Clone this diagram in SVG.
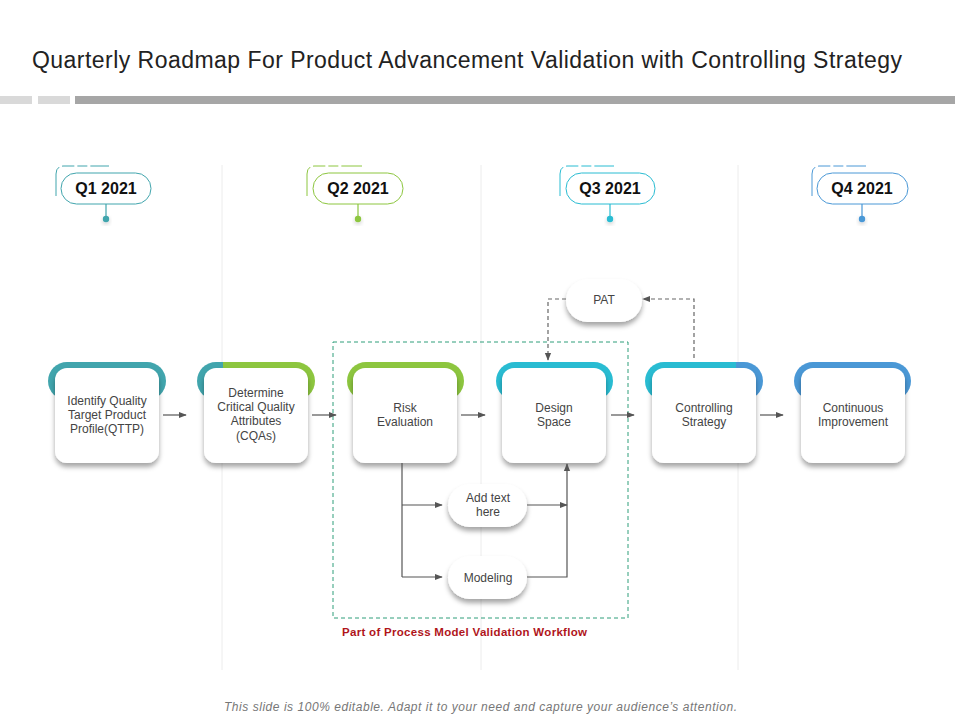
<svg xmlns="http://www.w3.org/2000/svg" width="960" height="720" viewBox="0 0 960 720">
<style>
.title{font-family:"Liberation Sans",Arial,sans-serif;font-size:23px;fill:#222}
.q{font-family:"Liberation Sans",Arial,sans-serif;font-size:16px;font-weight:bold;fill:#111;text-anchor:middle}
.t{font-family:"Liberation Sans",Arial,sans-serif;font-size:12px;fill:#444;text-anchor:middle}
.card{fill:#fff}
.sep{stroke:#ececec;stroke-width:1}
.conn{stroke:#555;stroke-width:1.2;fill:none}
.dash{stroke:#666;stroke-width:1.2;fill:none;stroke-dasharray:4 3}
.red{font-family:"Liberation Sans",Arial,sans-serif;font-size:11.5px;font-weight:bold;fill:#b0151b}
.foot{font-family:"Liberation Sans",Arial,sans-serif;font-size:12px;font-style:italic;fill:#777}
</style>
<defs>
<filter id="sh" x="-30%" y="-30%" width="160%" height="170%">
<feDropShadow dx="0" dy="4" stdDeviation="2.5" flood-color="#000" flood-opacity="0.35"/>
</filter>
<filter id="sh2" x="-30%" y="-30%" width="160%" height="180%">
<feDropShadow dx="0" dy="2" stdDeviation="2" flood-color="#000" flood-opacity="0.2"/>
</filter>
<marker id="ar" viewBox="0 0 10 10" refX="9" refY="5" markerWidth="8" markerHeight="8" orient="auto" markerUnits="userSpaceOnUse">
<path d="M0,1 L10,5 L0,9 Z" fill="#555"/>
</marker>
<linearGradient id="g2" x1="0" y1="0" x2="1" y2="0">
<stop offset="0.22" stop-color="#41a5ad"/><stop offset="0.22" stop-color="#8dc63f"/>
</linearGradient>
<linearGradient id="g5" x1="0" y1="0" x2="1" y2="0">
<stop offset="0.77" stop-color="#29bcd2"/><stop offset="0.77" stop-color="#4a98d6"/>
</linearGradient>
</defs>
<rect width="960" height="720" fill="#fff"/>
<text class="title" x="32" y="68" textLength="870" lengthAdjust="spacing">Quarterly Roadmap For Product Advancement Validation with Controlling Strategy</text>
<rect x="0" y="96" width="32" height="8" fill="#d9d9d9"/>
<rect x="38" y="96" width="32" height="8" fill="#d9d9d9"/>
<rect x="75" y="96" width="880" height="8" fill="#a6a6a6"/>
<g id="separators">
<line class="sep" x1="222" y1="165" x2="222" y2="670"/>
<line class="sep" x1="481" y1="165" x2="481" y2="670"/>
<line class="sep" x1="738" y1="165" x2="738" y2="670"/>
</g>
<g id="q1">
<path d="M56,196 V174 Q56,166 64,166 H109" fill="none" stroke="#41a5ad" stroke-width="1" stroke-dasharray="30 3 12 3 10 3 40"/>
<rect x="61" y="173" width="90" height="31" rx="15.5" fill="#fff" stroke="#41a5ad" stroke-width="1"/>
<text class="q" x="106" y="194">Q1 2021</text>
<line x1="106" y1="204" x2="106" y2="218" stroke="#41a5ad" stroke-width="1.2"/>
<circle cx="106" cy="219" r="3.2" fill="#41a5ad" filter="url(#sh2)"/>
</g>
<g id="q2">
<path d="M307,196 V174 Q307,166 315,166 H362" fill="none" stroke="#8dc63f" stroke-width="1" stroke-dasharray="30 3 12 3 10 3 40"/>
<rect x="313" y="173" width="90" height="31" rx="15.5" fill="#fff" stroke="#8dc63f" stroke-width="1"/>
<text class="q" x="358" y="194">Q2 2021</text>
<line x1="358" y1="204" x2="358" y2="218" stroke="#8dc63f" stroke-width="1.2"/>
<circle cx="358" cy="219" r="3.2" fill="#8dc63f" filter="url(#sh2)"/>
</g>
<g id="q3">
<path d="M560,196 V174 Q560,166 568,166 H614" fill="none" stroke="#29bcd2" stroke-width="1" stroke-dasharray="30 3 12 3 10 3 40"/>
<rect x="566" y="173" width="89" height="31" rx="15.5" fill="#fff" stroke="#29bcd2" stroke-width="1"/>
<text class="q" x="610" y="194">Q3 2021</text>
<line x1="610" y1="204" x2="610" y2="218" stroke="#29bcd2" stroke-width="1.2"/>
<circle cx="610" cy="219" r="3.2" fill="#29bcd2" filter="url(#sh2)"/>
</g>
<g id="q4">
<path d="M812,196 V174 Q812,166 820,166 H866" fill="none" stroke="#4a98d6" stroke-width="1" stroke-dasharray="30 3 12 3 10 3 40"/>
<rect x="817" y="173" width="91" height="31" rx="15.5" fill="#fff" stroke="#4a98d6" stroke-width="1"/>
<text class="q" x="862" y="194">Q4 2021</text>
<line x1="862" y1="204" x2="862" y2="218" stroke="#4a98d6" stroke-width="1.2"/>
<circle cx="862" cy="219" r="3.2" fill="#4a98d6" filter="url(#sh2)"/>
</g>
<g id="box-group" fill="none" stroke="#2e9e7a" stroke-width="1" stroke-dasharray="4 3">
<rect x="333" y="342" width="295" height="276"/>
</g>
<text class="red" x="342" y="636" textLength="245" lengthAdjust="spacing">Part of Process Model Validation Workflow</text>
<g id="n1">
<rect x="48" y="362" width="118" height="38" rx="19" fill="#41a5ad"/>
<rect class="card" x="55" y="368" width="104" height="95" rx="12" filter="url(#sh)"/>
<text class="t" x="107" y="405">Identify Quality</text>
<text class="t" x="107" y="419">Target Product</text>
<text class="t" x="107" y="433">Profile(QTTP)</text>
</g>
<g id="n2">
<rect x="197" y="362" width="118" height="38" rx="19" fill="url(#g2)"/>
<rect class="card" x="204" y="368" width="104" height="95" rx="12" filter="url(#sh)"/>
<text class="t" x="256" y="397">Determine</text>
<text class="t" x="256" y="411">Critical Quality</text>
<text class="t" x="256" y="425">Attributes</text>
<text class="t" x="256" y="440">(CQAs)</text>
</g>
<g id="n3">
<rect x="347" y="362" width="117" height="38" rx="19" fill="#8dc63f"/>
<rect class="card" x="353" y="368" width="104" height="95" rx="12" filter="url(#sh)"/>
<text class="t" x="405" y="412">Risk</text>
<text class="t" x="405" y="426">Evaluation</text>
</g>
<g id="n4">
<rect x="496" y="362" width="117" height="38" rx="19" fill="#29bcd2"/>
<rect class="card" x="502" y="368" width="104" height="95" rx="12" filter="url(#sh)"/>
<text class="t" x="554" y="412">Design</text>
<text class="t" x="554" y="426">Space</text>
</g>
<g id="n5">
<rect x="645" y="362" width="118" height="38" rx="19" fill="url(#g5)"/>
<rect class="card" x="652" y="368" width="104" height="95" rx="12" filter="url(#sh)"/>
<text class="t" x="704" y="412">Controlling</text>
<text class="t" x="704" y="426">Strategy</text>
</g>
<g id="n6">
<rect x="794" y="362" width="117" height="38" rx="19" fill="#4a98d6"/>
<rect class="card" x="801" y="368" width="104" height="95" rx="12" filter="url(#sh)"/>
<text class="t" x="853" y="412">Continuous</text>
<text class="t" x="853" y="426">Improvement</text>
</g>
<g id="pat">
<rect class="card" x="566" y="279" width="76" height="43" rx="21.5" filter="url(#sh)"/>
<text class="t" x="604" y="304">PAT</text>
</g>
<g id="addtext">
<rect class="card" x="448" y="484" width="79" height="43" rx="21.5" filter="url(#sh)"/>
<text class="t" x="488" y="502">Add text</text>
<text class="t" x="488" y="516">here</text>
</g>
<g id="modeling">
<rect class="card" x="448" y="556" width="79" height="43" rx="21.5" filter="url(#sh)"/>
<text class="t" x="488" y="582">Modeling</text>
</g>
<g id="connectors">
<line class="conn" x1="163" y1="415" x2="186" y2="415" marker-end="url(#ar)"/>
<line class="conn" x1="312" y1="415" x2="336" y2="415" marker-end="url(#ar)"/>
<line class="conn" x1="461" y1="415" x2="485" y2="415" marker-end="url(#ar)"/>
<line class="conn" x1="611" y1="415" x2="634" y2="415" marker-end="url(#ar)"/>
<line class="conn" x1="760" y1="415" x2="783" y2="415" marker-end="url(#ar)"/>
<path class="conn" d="M402,463 V577"/>
<path class="conn" d="M402,505 H442" marker-end="url(#ar)"/>
<path class="conn" d="M402,577 H442" marker-end="url(#ar)"/>
<path class="conn" d="M527,505 H567" marker-end="url(#ar)"/>
<path class="conn" d="M527,577 H567 V464" marker-end="url(#ar)"/>
<path class="dash" d="M566,299 H548 V360" marker-end="url(#ar)"/>
<path class="dash" d="M694,358 V299 H643" marker-end="url(#ar)"/>
</g>
<text class="foot" x="224" y="711" textLength="513" lengthAdjust="spacing">This slide is 100% editable. Adapt it to your need and capture your audience’s attention.</text>
</svg>
